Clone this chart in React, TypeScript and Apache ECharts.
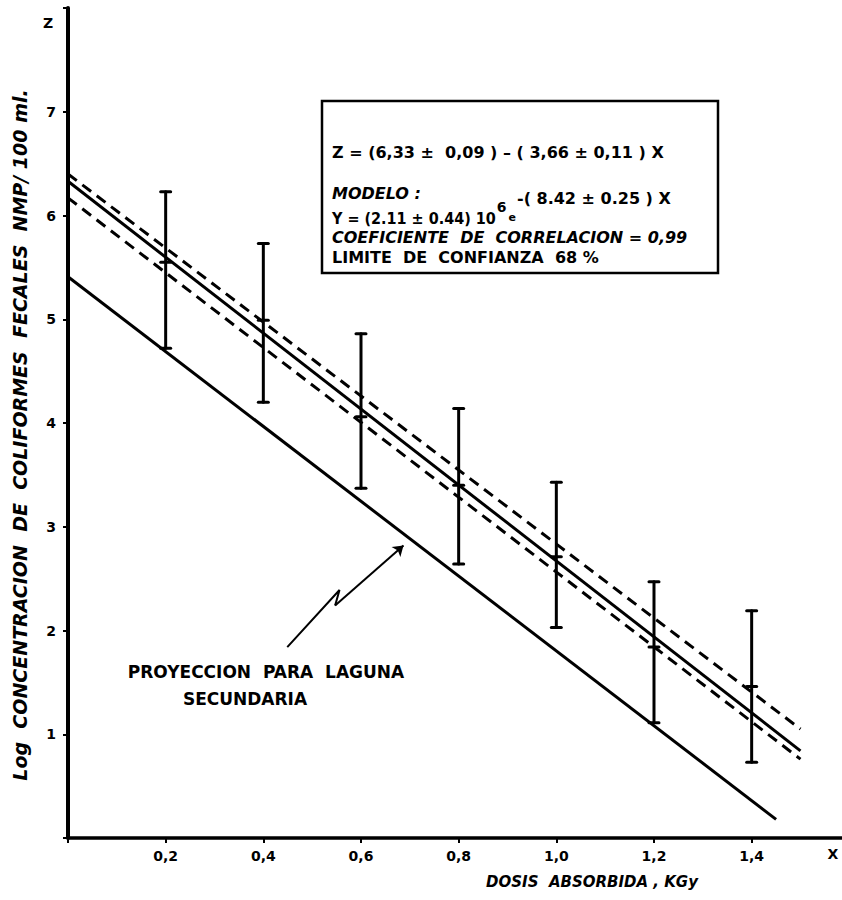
import React, { useEffect, useRef } from 'react';
import * as echarts from 'echarts';

// Measured points (dose in kGy, log concentration)
const doseX = [0.2, 0.4, 0.6, 0.8, 1.0, 1.2, 1.4];
const meanZ = [5.55, 4.99, 4.06, 3.40, 2.71, 1.84, 1.46];
const lowZ = [4.72, 4.20, 3.37, 2.64, 2.03, 1.11, 0.73];
const highZ = [6.23, 5.73, 4.86, 4.14, 3.43, 2.47, 2.19];

// Regression line and confidence band ends
const fitX = [0, 1.5];
const fitZ = [6.33, 0.84];
const upperZ = [6.40, 1.05];
const lowerZ = [6.17, 0.76];

// Projection for secondary lagoon
const projX = [0, 1.45];
const projZ = [5.41, 0.18];

// Annotation arrow (zig-zag)
const arrowX = [0.449, 0.556, 0.547, 0.687];
const arrowZ = [1.84, 2.39, 2.24, 2.82];

const FONT = '"DejaVu Sans", sans-serif';
const FONTC = '"DejaVu Sans Condensed", "DejaVu Sans", sans-serif';

export default function App() {
  const ref = useRef<HTMLDivElement>(null);
  useEffect(() => {
    document.body.style.margin = '0';
    const chart = echarts.init(ref.current!, null, { renderer: 'svg' });
    const pair = (xs: number[], zs: number[]) => xs.map((x, i) => [x, zs[i]]);
    const errData = doseX.map((x, i) => [x, lowZ[i], highZ[i], meanZ[i]]);
    const option: any = {
      animation: false,
      backgroundColor: '#fff',
      grid: { left: 68, right: 0, top: 8, bottom: 62 },
      xAxis: {
        type: 'value', min: 0, max: 1.585, interval: 0.2,
        axisLine: { lineStyle: { color: '#000', width: 3.5 } },
        axisTick: { show: true, length: 5, lineStyle: { color: '#000', width: 2 } },
        splitLine: { show: false },
        axisLabel: {
          color: '#000', fontFamily: FONT, fontWeight: 'bold', fontSize: 14, margin: 11,
          showMaxLabel: false,
          formatter: (v: number) => (v <= 0 || v > 1.5 ? '' : v.toFixed(1).replace('.', ',')),
        },
      },
      yAxis: {
        type: 'value', min: 0, max: 8, interval: 1,
        axisLine: { lineStyle: { color: '#000', width: 4 } },
        axisTick: { show: true, length: 5, lineStyle: { color: '#000', width: 2 } },
        splitLine: { show: false },
        axisLabel: {
          color: '#000', fontFamily: FONT, fontWeight: 'bold', fontSize: 14, margin: 12,
          formatter: (v: number) => (v <= 0 || v >= 8 ? '' : String(v)),
        },
      },
      series: [
        {
          type: 'line', data: pair(fitX, fitZ), symbol: 'none',
          lineStyle: { color: '#000', width: 3 },
        },
        {
          type: 'line', data: pair(fitX, upperZ), symbol: 'none',
          lineStyle: { color: '#000', width: 3, type: [11, 7] },
        },
        {
          type: 'line', data: pair(fitX, lowerZ), symbol: 'none',
          lineStyle: { color: '#000', width: 3, type: [11, 7] },
        },
        {
          type: 'line', data: pair(projX, projZ), symbol: 'none',
          lineStyle: { color: '#000', width: 3 },
        },
        {
          type: 'custom',
          data: errData,
          renderItem: (params: any, api: any) => {
            const x = api.value(0);
            const pLo = api.coord([x, api.value(1)]);
            const pHi = api.coord([x, api.value(2)]);
            const pM = api.coord([x, api.value(3)]);
            const st = { stroke: '#000', lineWidth: 3, lineCap: 'round' };
            return {
              type: 'group',
              children: [
                { type: 'line', shape: { x1: pLo[0], y1: pLo[1], x2: pHi[0], y2: pHi[1] }, style: st },
                { type: 'line', shape: { x1: pHi[0] - 5, y1: pHi[1], x2: pHi[0] + 5, y2: pHi[1] }, style: st },
                { type: 'line', shape: { x1: pLo[0] - 5, y1: pLo[1], x2: pLo[0] + 5, y2: pLo[1] }, style: st },
                { type: 'line', shape: { x1: pM[0] - 5, y1: pM[1], x2: pM[0] + 5, y2: pM[1] }, style: st },
              ],
            };
          },
        },
        {
          type: 'line', data: pair(arrowX.slice(0, 3), arrowZ.slice(0, 3)), symbol: 'none',
          lineStyle: { color: '#000', width: 2 },
          markLine: {
            silent: true, animation: false,
            symbol: ['none', 'arrow'], symbolSize: 10,
            label: { show: false },
            lineStyle: { color: '#000', width: 2, type: 'solid' },
            data: [[{ coord: [arrowX[2], arrowZ[2]] }, { coord: [arrowX[3], arrowZ[3]] }]],
          },
        },
      ],
      graphic: [
        {
          type: 'rect', shape: { x: 322, y: 101, width: 396, height: 172 },
          style: { fill: 'none', stroke: '#000', lineWidth: 2.5 },
        },
        {
          type: 'text', x: 332, y: 152,
          style: { text: 'Z = (6,33 ±  0,09 ) – ( 3,66 ± 0,11 ) X', font: `bold 16px ${FONT}`, fill: '#000', verticalAlign: 'middle' },
        },
        {
          type: 'text', x: 332, y: 193,
          style: { text: 'MODELO :', font: `italic bold 16px ${FONT}`, fill: '#000', verticalAlign: 'middle' },
        },
        {
          type: 'text', x: 332, y: 208,
          style: {
            text: '{m|Y = (2.11 ± 0.44) 10}{s|6}{e|e}{x|-( 8.42 ± 0.25 ) X}',
            fill: '#000', verticalAlign: 'middle',
            rich: {
              m: { fontFamily: FONTC, fontWeight: 'bold', fontSize: 16, fill: '#000', padding: [20, 0, 0, 0] },
              s: { fontFamily: FONT, fontWeight: 'bold', fontSize: 14, fill: '#000', padding: [0, 2, 2, 1] },
              e: { fontFamily: FONT, fontWeight: 'bold', fontSize: 11, fill: '#000', padding: [18, 1, 0, 0] },
              x: { fontFamily: FONT, fontWeight: 'bold', fontSize: 16, fill: '#000', padding: [0, 0, 20, 0] },
            },
          },
        },
        {
          type: 'text', x: 332, y: 237,
          style: { text: 'COEFICIENTE  DE  CORRELACION = 0,99', font: `italic bold 16px ${FONT}`, fill: '#000', verticalAlign: 'middle' },
        },
        {
          type: 'text', x: 332, y: 257,
          style: { text: 'LIMITE  DE  CONFIANZA  68 %', font: `bold 16px ${FONT}`, fill: '#000', verticalAlign: 'middle' },
        },
        {
          type: 'text', x: 266, y: 672,
          style: { text: 'PROYECCION  PARA  LAGUNA', font: `bold 17px ${FONT}`, fill: '#000', align: 'center', verticalAlign: 'middle' },
        },
        {
          type: 'text', x: 245, y: 699,
          style: { text: 'SECUNDARIA', font: `bold 17px ${FONT}`, fill: '#000', align: 'center', verticalAlign: 'middle' },
        },
        {
          type: 'text', x: 48, y: 23,
          style: { text: 'Z', font: `bold 14px ${FONT}`, fill: '#000', align: 'center', verticalAlign: 'middle' },
        },
        {
          type: 'text', x: 833, y: 854,
          style: { text: 'X', font: `bold 14px ${FONT}`, fill: '#000', align: 'center', verticalAlign: 'middle' },
        },
        {
          type: 'text', x: 592, y: 882,
          style: { text: 'DOSIS  ABSORBIDA , KGy', font: `italic bold 15px ${FONT}`, fill: '#000', align: 'center', verticalAlign: 'middle' },
        },
        {
          type: 'text', x: 20, y: 435, rotation: Math.PI / 2,
          style: { text: 'Log  CONCENTRACION  DE  COLIFORMES  FECALES  NMP/ 100 ml.', font: `italic bold 19px ${FONT}`, fill: '#000', align: 'center', verticalAlign: 'middle' },
        },
      ],
    };
    chart.setOption(option);
    return () => chart.dispose();
  }, []);
  return <div ref={ref} style={{ width: 842, height: 900 }} />;
}
